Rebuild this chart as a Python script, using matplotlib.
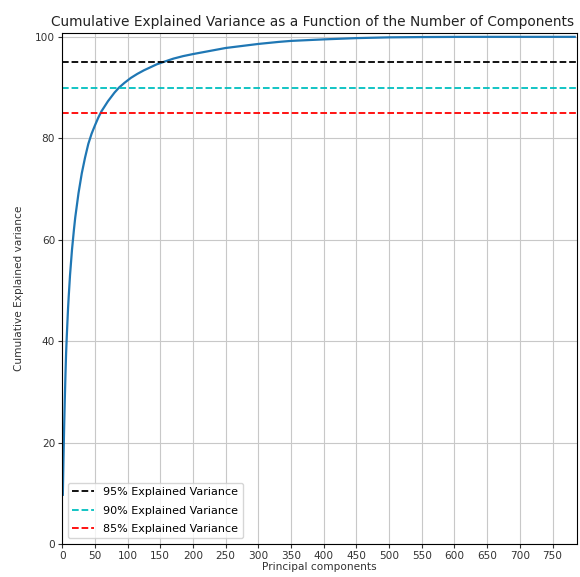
import matplotlib.pyplot as plt

# cumulative explained variance (%) at selected component counts
components = [1, 2, 3, 4, 5, 6, 7, 8, 9, 10, 12, 15, 18, 20, 25, 30, 35, 40, 45, 50,
              55, 60, 70, 80, 87, 95, 105, 115, 125, 135, 145, 154, 170, 185, 200,
              225, 250, 275, 300, 331, 350, 400, 450, 500, 550, 600, 650, 700, 784]
cum_var = [9.7, 16.8, 23.0, 28.4, 33.3, 37.6, 40.8, 43.7, 46.5, 48.8, 53.0, 58.0,
           62.0, 64.4, 69.2, 73.1, 76.2, 78.9, 80.9, 82.5, 84.0, 85.3, 87.3, 89.0,
           90.0, 90.9, 91.9, 92.7, 93.4, 94.0, 94.6, 95.0, 95.7, 96.2, 96.6,
           97.2, 97.8, 98.2, 98.6, 99.0, 99.2, 99.5, 99.75, 99.9, 99.96, 99.99,
           100.0, 100.0, 100.0]

thresholds = [95, 90, 85]
threshold_colors = ["k", "c", "r"]
threshold_labels = ["95% Explained Variance", "90% Explained Variance", "85% Explained Variance"]

fig = plt.figure(figsize=(5.8, 5.77), dpi=100)
ax = fig.add_axes([0.1072, 0.0572, 0.8871, 0.8851])

ax.plot(components, cum_var, color="tab:blue", linewidth=1.6)

for t, c, lab in zip(thresholds, threshold_colors, threshold_labels):
    ax.axhline(t, color=c, linestyle="--", linewidth=1.3, label=lab)

ax.set_xlim(0, 787)
ax.set_ylim(0, 100.7)
ax.set_xticks(range(0, 751, 50))
ax.set_yticks(range(0, 101, 20))
ax.tick_params(labelsize=7.6, length=3, width=0.8, pad=2, colors="#333333")
ax.grid(True, color="#c8c8c8", linewidth=0.8)

ax.set_xlabel("Principal components", fontsize=7.6, labelpad=1, color="#333333")
ax.set_ylabel("Cumulative Explained variance", fontsize=7.6, labelpad=8, color="#333333")
ax.set_title("Cumulative Explained Variance as a Function of the Number of Components",
             fontsize=9.9, pad=5, color="#222222", x=0.487)
ax.legend(loc="lower left", fontsize=8, handlelength=2.0, labelspacing=0.75)

fig.savefig("out.png", dpi=100)
